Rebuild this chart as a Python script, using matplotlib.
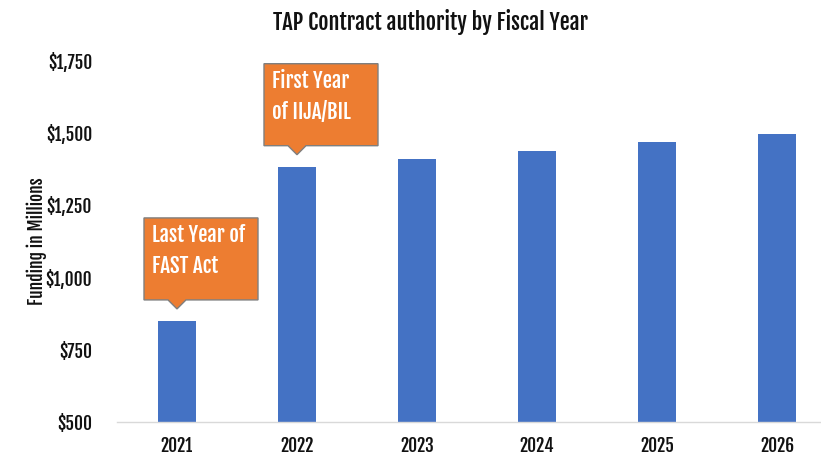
import matplotlib.pyplot as plt
from matplotlib.patches import Polygon
from matplotlib import font_manager

# data
years = ['2021', '2022', '2023', '2024', '2025', '2026']
funding = [850, 1384, 1412, 1440, 1469, 1498]
yticks = [500, 750, 1000, 1250, 1500, 1750]
ytick_labels = ['$500', '$750', '$1,000', '$1,250', '$1,500', '$1,750']
callout_text = ['Last Year of\nFAST Act', 'First Year\nof IIJA/BIL']
callout_bar = [0, 1]

# pick a condensed bold face if one is installed
names = {f.name for f in font_manager.fontManager.ttflist}
FAM = ['DejaVu Sans']
for cand in ['Fjalla One', 'Oswald', 'Antonio', 'Archivo Narrow', 'Roboto Condensed']:
    if cand in names:
        FAM = [cand, 'DejaVu Sans']
        break
plt.rcParams['font.family'] = FAM
plt.rcParams['font.weight'] = 'bold'
plt.rcParams['text.color'] = '#111111'

BLUE = '#4472C4'
ORANGE = '#ED7D31'

fig = plt.figure(figsize=(8.21, 4.59), dpi=100)
ax = fig.add_axes([117/821, 37/459, 1 - 117/821, 361/459])

x = range(len(years))
ax.bar(x, [v - 500 for v in funding], bottom=500, width=0.31, color=BLUE, zorder=2)

ax.set_xlim(-0.5, 5.367)
ax.set_ylim(500, 1750)
ax.set_yticks(yticks)
ax.set_yticklabels(ytick_labels, fontsize=12.5, color='#111111')
ax.set_xticks(list(x))
ax.set_xticklabels(years, fontsize=12.5, color='#111111')
ax.tick_params(axis='y', length=0, pad=18)
ax.tick_params(axis='x', length=0, pad=10)
for s in ['top', 'right', 'left']:
    ax.spines[s].set_visible(False)
ax.spines['bottom'].set_color('#D9D9D9')
ax.spines['bottom'].set_linewidth(1)

fig.text(37/821, 1 - 241/459, 'Funding in Millions', rotation=90, ha='center', va='center',
         fontsize=12.5)
fig.text(430/821, 1 - 22/459, 'TAP Contract authority by Fiscal Year', ha='center', va='center',
         fontsize=16)

# callout boxes (pixel offsets converted to data units)
ppx = 1 / 120.0          # data x per pixel
ppy = 1250 / 361.0       # data y per pixel
for txt, i in zip(callout_text, callout_bar):
    tip = funding[i] + 12 * ppy
    base = tip + 9 * ppy
    top = base + 82 * ppy
    left = i - 33 * ppx
    right = i + 81 * ppx
    pts = [(left, base), (i - 9 * ppx, base), (i, tip), (i + 9 * ppx, base),
           (right, base), (right, top), (left, top)]
    ax.add_patch(Polygon(pts, closed=True, facecolor=ORANGE, edgecolor='#7F7F7F',
                         linewidth=1, zorder=3, clip_on=False))
    ax.text(left + 8 * ppx, top - 6 * ppy, txt, ha='left', va='top', color='white',
            fontsize=15, linespacing=1.5, zorder=4)

fig.savefig('out.png', dpi=100)
